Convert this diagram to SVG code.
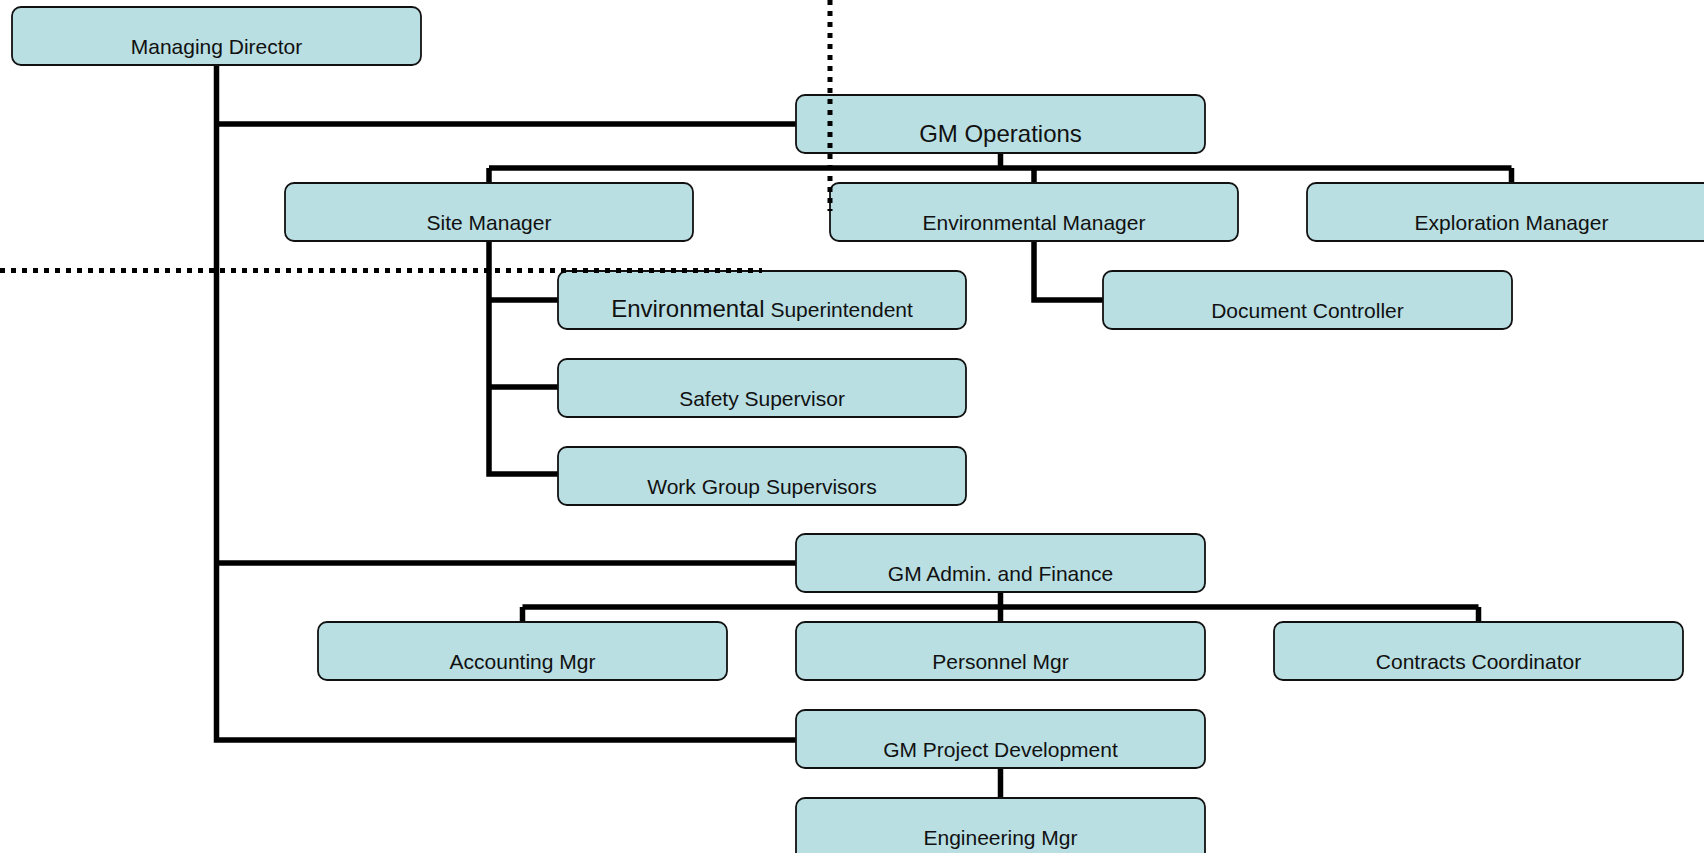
<svg xmlns="http://www.w3.org/2000/svg" width="1704" height="853" viewBox="0 0 1704 853">
<style>
.box{fill:#b9dfe3;stroke:#111;stroke-width:1.8}
.lbl{font-family:"Liberation Sans",Arial,sans-serif;font-size:21px;fill:#111;text-anchor:middle}
.big{font-size:24px}
.conn{fill:none;stroke:#000;stroke-width:5.5;stroke-linejoin:miter}
.dot{fill:none;stroke:#000;stroke-width:5;stroke-dasharray:5 6}
</style>
<rect width="1704" height="853" fill="#fff"/>
<g id="connectors">
<path class="conn" d="M216.5 65 V740 H796"/>
<path class="conn" d="M216.5 124 H796"/>
<path class="conn" d="M216.5 563 H796"/>
<path class="conn" d="M1000.5 153 V168"/>
<path class="conn" d="M489 168 H1511.5"/>
<path class="conn" d="M489 168 V183 M1034 168 V183 M1511.5 168 V183"/>
<path class="conn" d="M489 241 V474 H558 M489 300 H558 M489 387 H558"/>
<path class="conn" d="M1034 241 V300 H1103"/>
<path class="conn" d="M1000.5 592 V607 M522.5 607 H1478.5 M522.5 607 V622 M1000.5 607 V622 M1478.5 607 V622"/>
<path class="conn" d="M1000.5 768 V798"/>
</g>
<g id="n-md"><rect class="box" x="12" y="7" width="409" height="58" rx="9"/><text class="lbl" x="216.5" y="54">Managing Director</text></g>
<g id="n-gmops"><rect class="box" x="796" y="95" width="409" height="58" rx="9"/><text class="lbl big" x="1000.5" y="142">GM Operations</text></g>
<g id="n-site"><rect class="box" x="285" y="183" width="408" height="58" rx="9"/><text class="lbl" x="489" y="230">Site Manager</text></g>
<g id="n-envmgr"><rect class="box" x="830" y="183" width="408" height="58" rx="9"/><text class="lbl" x="1034" y="230">Environmental Manager</text></g>
<g id="n-expl"><rect class="box" x="1307" y="183" width="409" height="58" rx="9"/><text class="lbl" x="1511.5" y="230">Exploration Manager</text></g>
<g id="n-envsup"><rect class="box" x="558" y="271" width="408" height="58" rx="9"/><text class="lbl" x="762" y="317"><tspan class="big">Environmental</tspan> Superintendent</text></g>
<g id="n-doc"><rect class="box" x="1103" y="271" width="409" height="58" rx="9"/><text class="lbl" x="1307.5" y="318">Document Controller</text></g>
<g id="n-safety"><rect class="box" x="558" y="359" width="408" height="58" rx="9"/><text class="lbl" x="762" y="406">Safety Supervisor</text></g>
<g id="n-work"><rect class="box" x="558" y="447" width="408" height="58" rx="9"/><text class="lbl" x="762" y="494">Work Group Supervisors</text></g>
<g id="n-gmadmin"><rect class="box" x="796" y="534" width="409" height="58" rx="9"/><text class="lbl" x="1000.5" y="581">GM Admin. and Finance</text></g>
<g id="n-acct"><rect class="box" x="318" y="622" width="409" height="58" rx="9"/><text class="lbl" x="522.5" y="669">Accounting Mgr</text></g>
<g id="n-pers"><rect class="box" x="796" y="622" width="409" height="58" rx="9"/><text class="lbl" x="1000.5" y="669">Personnel Mgr</text></g>
<g id="n-contr"><rect class="box" x="1274" y="622" width="409" height="58" rx="9"/><text class="lbl" x="1478.5" y="669">Contracts Coordinator</text></g>
<g id="n-gmpd"><rect class="box" x="796" y="710" width="409" height="58" rx="9"/><text class="lbl" x="1000.5" y="757">GM Project Development</text></g>
<g id="n-eng"><rect class="box" x="796" y="798" width="409" height="66" rx="9"/><text class="lbl" x="1000.5" y="845">Engineering Mgr</text></g>
<g id="dotted">
<path class="dot" d="M830 0 V211"/>
<path class="dot" d="M0 270.5 H762"/>
</g>
</svg>
